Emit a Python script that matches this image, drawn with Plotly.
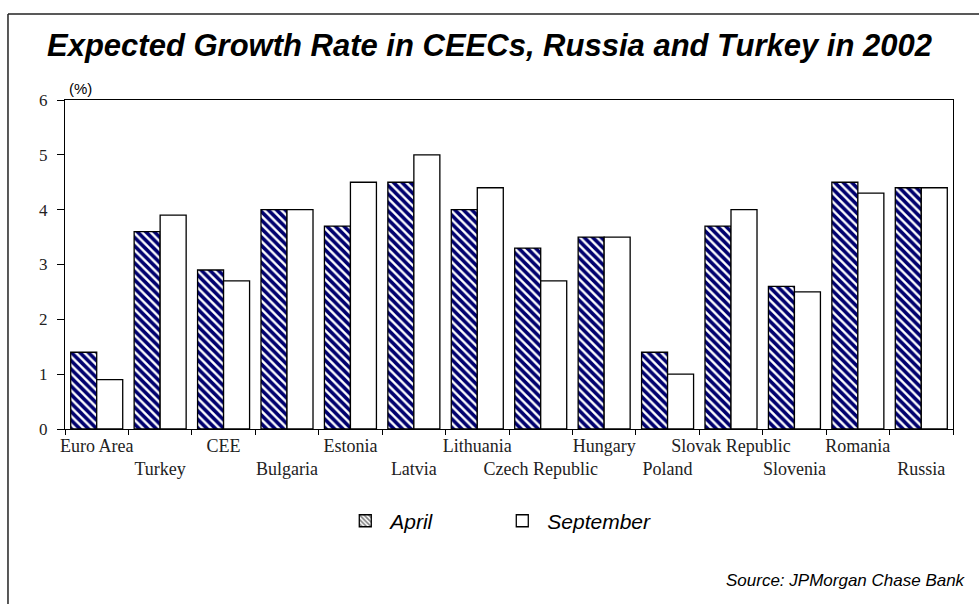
import plotly.graph_objects as go

# Growth forecasts (%) for 2002, by country/region
countries = ["Euro Area", "Turkey", "CEE", "Bulgaria", "Estonia", "Latvia", "Lithuania",
             "Czech Republic", "Hungary", "Poland", "Slovak Republic", "Slovenia",
             "Romania", "Russia"]
april = [1.4, 3.6, 2.9, 4.0, 3.7, 4.5, 4.0, 3.3, 3.5, 1.4, 3.7, 2.6, 4.5, 4.4]
september = [0.9, 3.9, 2.7, 4.0, 4.5, 5.0, 4.4, 2.7, 3.5, 1.0, 4.0, 2.5, 4.3, 4.4]
y_ticks = [0, 1, 2, 3, 4, 5, 6]

# Staggered category labels: every second label drops to a second line
tick_text = [c if i % 2 == 0 else "<br>" + c for i, c in enumerate(countries)]

NAVY = "#00006e"

fig = go.Figure()
fig.add_trace(go.Bar(
    x=countries, y=april, name="April", showlegend=False,
    marker=dict(color="white", line=dict(color="black", width=1.3),
                pattern=dict(shape="\\", fgcolor=NAVY, bgcolor="white",
                             size=6, solidity=0.6, fgopacity=1)),
))
fig.add_trace(go.Bar(
    x=countries, y=september, name="September", showlegend=False,
    marker=dict(color="white", line=dict(color="black", width=1.3)),
))

# Legend keys on a hidden axis pair so they do not take a slot in the bar groups
fig.add_trace(go.Bar(
    x=[None], y=[None], name="<i>April</i>", xaxis="x2", yaxis="y2",
    marker=dict(color="white", line=dict(color="black", width=1.3),
                pattern=dict(shape="\\", fgcolor="black", bgcolor="white",
                             size=4, solidity=0.5)),
))
fig.add_trace(go.Bar(
    x=[None], y=[None], name="<i>September</i>", xaxis="x2", yaxis="y2",
    marker=dict(color="white", line=dict(color="black", width=1.3)),
))

serif = "Liberation Serif"
sans = "Liberation Sans"

fig.update_layout(
    width=979, height=604,
    margin=dict(l=65, r=26, t=100, b=175),
    paper_bgcolor="white", plot_bgcolor="white",
    barmode="group", bargap=0.18, bargroupgap=0,
    title=dict(text="<b><i>Expected Growth Rate in CEECs, Russia and Turkey in 2002</i></b>",
               x=0.5, xanchor="center", y=0.925, yanchor="middle",
               font=dict(family=sans, size=31, color="black")),
    xaxis=dict(
        tickmode="array", tickvals=countries, ticktext=tick_text, tickangle=0,
        tickson="boundaries", ticks="outside", ticklen=5, tickcolor="black",
        showline=True, linecolor="black", linewidth=1.2, mirror=True,
        showgrid=False, tickfont=dict(family=serif, size=18, color="#222"),
        fixedrange=True,
    ),
    yaxis=dict(
        range=[0, 6], tickvals=y_ticks, ticks="outside", ticklen=7, tickcolor="black",
        ticklabelstandoff=6,
        showline=True, linecolor="black", linewidth=1.2, mirror=True,
        showgrid=False, zeroline=False,
        tickfont=dict(family=serif, size=17, color="#222"),
    ),
    xaxis2=dict(overlaying="x", visible=False),
    yaxis2=dict(overlaying="y", visible=False),
    legend=dict(orientation="h", x=0.31, xanchor="left", y=-0.28, yanchor="middle",
                font=dict(family=sans, size=21, color="black"),
                itemwidth=40, traceorder="normal", entrywidth=102),
    annotations=[
        dict(text="(%)", xref="paper", yref="paper", x=0.0, y=1.0, xanchor="left",
             yanchor="bottom", xshift=2, yshift=1, showarrow=False,
             font=dict(family=sans, size=15, color="black")),
        dict(text="<i>Source: JPMorgan Chase Bank</i>", xref="paper", yref="paper",
             x=1.0, y=-0.46, xanchor="right", yanchor="middle", xshift=15,
             showarrow=False, font=dict(family=sans, size=17, color="black")),
    ],
    shapes=[
        # Outer frame: top and left edges
        dict(type="line", xref="paper", yref="paper", x0=-0.0642, x1=1.05,
             y0=1.2614, y1=1.2614, line=dict(color="#222", width=1.5)),
        dict(type="line", xref="paper", yref="paper", x0=-0.0642, x1=-0.0642,
             y0=1.2614, y1=-0.6, line=dict(color="#222", width=1.5)),
    ],
)

fig.write_html("out.html")
